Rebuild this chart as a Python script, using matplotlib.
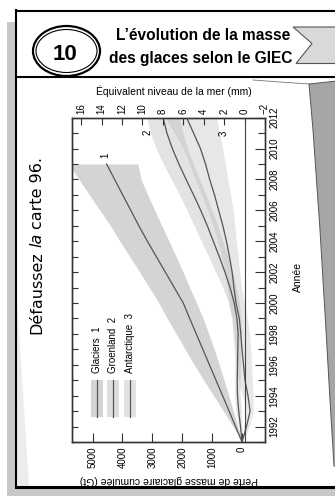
import matplotlib
matplotlib.use("Agg")
import matplotlib.pyplot as plt
from matplotlib.patches import Ellipse, Polygon, Rectangle
from matplotlib.ticker import MultipleLocator

# Data ------------------------------------------------------------------------
gla_years = [1991, 1992, 1993, 1994, 1995, 1996, 1997, 1998, 1999, 2000,
             2001, 2002, 2003, 2004, 2005, 2006, 2007, 2008, 2009]
gla_loss = [0, 215, 430, 650, 870, 1090, 1310, 1530, 1750, 1965,
            2265, 2565, 2865, 3165, 3450, 3720, 3990, 4260, 4530]
gla_low = [0, 140, 290, 440, 600, 760, 930, 1110, 1300, 1520,
           1750, 1970, 2200, 2440, 2680, 2920, 3150, 3380, 3480]
gla_high = [0, 300, 620, 950, 1280, 1600, 1900, 2200, 2500, 2780,
            3100, 3420, 3750, 4080, 4400, 4750, 5100, 5450, 5800]

ice_years = [1991, 1992, 1993, 1994, 1995, 1996, 1997, 1998, 1999, 2000, 2001,
             2002, 2003, 2004, 2005, 2006, 2007, 2008, 2009, 2010, 2011, 2012]
gre_loss = [0, 50, 110, 150, 160, 150, 140, 130, 170, 260, 400,
            570, 760, 960, 1160, 1380, 1620, 1870, 2110, 2330, 2510, 2640]
gre_low = [0, 0, 30, 60, 60, 50, 30, 10, 30, 90, 190,
           320, 470, 640, 810, 1000, 1200, 1420, 1630, 1820, 1980, 2090]
gre_high = [0, 110, 200, 250, 240, 240, 230, 260, 330, 450, 640,
            880, 1120, 1360, 1600, 1840, 2090, 2360, 2630, 2870, 3060, 3190]
ant_loss = [0, -150, -270, -200, -100, -50, 0, 40, 90, 200, 270,
            330, 420, 520, 640, 780, 920, 1080, 1220, 1390, 1620, 1850]
ant_low = [0, -250, -370, -370, -340, -320, -290, -250, -180, -80, 20,
           80, 130, 190, 240, 300, 380, 470, 560, 650, 750, 850]
ant_high = [0, -50, -150, -20, 120, 200, 260, 310, 350, 440, 500,
            560, 680, 810, 970, 1150, 1350, 1560, 1750, 1970, 2260, 2560]

legend_names = ["Glaciers  1", "Groenland  2", "Antarctique  3"]
gt_ticks = [0, 1000, 2000, 3000, 4000, 5000]
mm_ticks = [16, 14, 12, 10, 8, 6, 4, 2, 0, -2]
year_ticks = list(range(1992, 2013, 2))

# Figure / card ---------------------------------------------------------------
W, H = 335, 496
fig = plt.figure(figsize=(W / 100, H / 100), dpi=100)
bg = fig.add_axes([0, 0, 1, 1])
bg.set_xlim(0, W)
bg.set_ylim(H, 0)
bg.axis("off")

grey = "#c6c8ca"
bg.add_patch(Rectangle((7, 22), 9, H - 22, color=grey, lw=0))
bg.add_patch(Rectangle((7, 488), W - 7, 8, color=grey, lw=0))
bg.add_patch(Polygon([(17, 300), (17, 486), (29, 486)], color="#ececec", lw=0))
bg.add_patch(Polygon([(309, 84), (313, 130), (320, 230), (326, 330), (330, 400),
                      (334, 466), (W + 2, 466), (W + 2, 81)], closed=True,
                     facecolor="#a6a6a6", edgecolor="#555555", lw=0.7))
bg.plot([253, 280, 309], [80, 82, 84], color="#777777", lw=0.6)

bg.plot([16, 16], [10, 487], color="black", lw=1.5)
bg.plot([16, W], [10.5, 10.5], color="black", lw=1.5)
bg.plot([16, W], [77, 77], color="black", lw=1.5)
bg.plot([16, W], [487, 487], color="black", lw=2.2)

title_font = ["Liberation Sans", "DejaVu Sans"]
bg.add_patch(Ellipse((66.5, 51), 67, 50, facecolor="white", edgecolor="black", lw=1.6))
bg.add_patch(Ellipse((66.5, 51), 61, 43, facecolor="none", edgecolor="black", lw=0.8))
bg.text(65.5, 55, "10", ha="center", va="center", fontsize=16, fontweight="bold",
        family=title_font)
bg.text(203, 35.5, "L’évolution de la masse", ha="center", va="center", fontsize=11.2,
        fontweight="bold", family=title_font)
bg.text(201, 58, "des glaces selon le GIEC", ha="center", va="center", fontsize=11.2,
        fontweight="bold", family=title_font)
bg.add_patch(Polygon([(293, 27), (W + 2, 27), (W + 2, 63.5), (296, 63.5), (312, 43.5)],
                     closed=True, facecolor="#d9d9d9", edgecolor="#555555", lw=0.8))

# "Défaussez la carte 96." written upward, with "la" in italics
renderer = fig.canvas.get_renderer()
y0 = 334
for piece, st in [("Défaussez", "normal"), ("la", "italic"), ("carte 96.", "normal")]:
    t = bg.text(37, y0, piece, rotation=90, ha="center", va="bottom", style=st,
                fontsize=11.5, family="DejaVu Sans")
    y0 -= t.get_window_extent(renderer=renderer).height + 4

# Chart -----------------------------------------------------------------------
plt.rcParams["font.family"] = ["Liberation Sans", "DejaVu Sans"]
ax = fig.add_axes([72 / W, 1 - 442 / H, 193 / W, 324.3 / H])
ax.patch.set_visible(False)
ax.set_xlim(5686, -769)
ax.set_ylim(1991, 2012)

ax.fill_betweenx(gla_years, gla_low, gla_high, color="#d4d4d4", lw=0, zorder=1)
ax.fill_betweenx(ice_years, gre_low, gre_high, color="#b0b0b0", alpha=0.35, lw=0, zorder=1)
ax.fill_betweenx(ice_years, ant_low, ant_high, color="#b0b0b0", alpha=0.3, lw=0, zorder=1)
ax.plot(gla_loss, gla_years, color="#555555", lw=0.9, zorder=3)
ax.plot(gre_loss, ice_years, color="#555555", lw=0.9, zorder=3)
ax.plot(ant_loss, ice_years, color="#555555", lw=0.9, zorder=3)

for sp in ax.spines.values():
    sp.set_color("#333333")
    sp.set_linewidth(0.9)

ax.set_xticks(gt_ticks)
ax.tick_params(axis="x", direction="in", length=6.5, width=0.8, color="#333333",
               labelsize=7, labelrotation=90, pad=3)
ax.yaxis.set_major_locator(MultipleLocator(1))
ax.tick_params(axis="y", direction="in", length=4, width=0.8, color="#333333",
               left=True, right=False, labelleft=False)
ax.set_xlabel("Perte de masse glaciaire cumulée (Gt)", fontsize=7.5, rotation=180,
              labelpad=5)

axr = ax.twinx()
axr.set_ylim(1991, 2012)
axr.set_yticks(year_ticks)
axr.yaxis.set_minor_locator(MultipleLocator(1))
axr.tick_params(axis="y", which="major", direction="in", length=7, width=0.8,
                color="#333333", labelsize=7, labelrotation=90, pad=3)
axr.tick_params(axis="y", which="minor", direction="in", length=5, width=0.8,
                color="#333333")
for lab in axr.get_yticklabels():
    lab.set_va("center")
axr.set_ylabel("Année", fontsize=7.5, rotation=90, labelpad=0)
axr.yaxis.set_label_coords(1.145, 0.51)

axt = ax.twiny()
axt.set_xlim(16.9, -2.0)
axt.set_xticks(mm_ticks)
axt.set_xticklabels([str(v).replace("-", "−") for v in mm_ticks])
axt.tick_params(axis="x", direction="in", length=5, width=0.8, color="#333333",
                labelsize=7, labelrotation=90, pad=3)
axt.axvline(0, color="#444444", lw=0.8, zorder=2)
axt.set_xlabel("Équivalent niveau de la mer (mm)", fontsize=7.5, labelpad=4)
axt.xaxis.set_label_coords(0.53, 1.07)
for a in (axr, axt):
    for sp in a.spines.values():
        sp.set_color("#333333")
        sp.set_linewidth(0.9)

# curve numbers
for fx, fy, s in [(0.171, 0.885, "1"), (0.394, 0.956, "2"), (0.788, 0.953, "3")]:
    ax.text(fx, fy, s, transform=ax.transAxes, rotation=90, ha="center", va="center",
            fontsize=7, zorder=4)

# legend, drawn upright like the rest of the rotated chart
for fx, name, col in zip([0.128, 0.212, 0.300], legend_names,
                         ["#d4d4d4", "#dedede", "#e2e2e2"]):
    ax.add_patch(Rectangle((fx - 0.031, 0.077), 0.062, 0.114, transform=ax.transAxes,
                           color=col, lw=0, zorder=2))
    ax.plot([fx, fx], [0.077, 0.191], transform=ax.transAxes, color="#555555",
            lw=0.9, zorder=3)
    ax.text(fx, 0.213, name, transform=ax.transAxes, rotation=90, ha="center",
            va="bottom", fontsize=7, zorder=4)

fig.savefig("out.png", dpi=100)
